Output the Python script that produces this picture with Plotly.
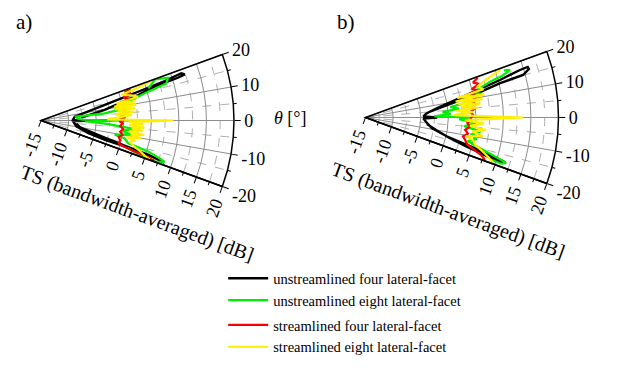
import plotly.graph_objects as go

# ---------------- data (theta in degrees, TS in dB) ----------------
# panel a)
th_a_black = [4.0, 9.4, 14.7, 16.6, 17.35, 17.8, 18.6, 17.7, 16.5, 13.7, 6.4, 3.0, 0.8, 0.0, -0.8, -4, -9.3, -14.9, -16.8, -17.1, -17.7, -18.7, -18.9, -18.2, -17.5, -16.3, -14.5, -10, -5]
r_a_black = [-7.7, -3.3, 3.2, 6.5, 11.0, 12.4, 11.85, 8.55, 3.35, -3.1, -8.85, -9.1, -9.2, -2.5, -9.2, -9.0, -8.5, -6.2, -2.9, 0.9, 5.4, 8.0, 8.6, 7.0, 3.5, -0.5, -4, -7.8, -8.6]
th_a_green = [16.7, 19.8, 18.6, 16.5, 15.1, 13.3, 11.5, 10.0, 9.0, 8.0, 7.0, 6.4, 6.1, 3.0, 1.0, 0.0, -1.0, -3.0, -5.4, -6.5, -7.5, -9.0, -10.9, -12.0, -14.5, -16.1, -18.0, -18.5, -19.6, -19.8, -19.0, -17.5]
r_a_green = [5.3, 7.0, 9.3, 8.7, 5.1, 2.5, 0.5, 1.5, -1.5, 1.0, -2.5, -3.4, -8.6, -8.4, -7.5, 1.0, -7.0, -3.0, 2.6, 0.5, 0.0, 1.5, -1.4, 0.5, 1.3, 5.2, 8.0, 8.6, 7.3, 5.5, 3.5, 1.5]
th_a_red = [19.5, 18.5, 17.0, 15.5, 14.0, 12.5, 11.0, 9.5, 8.0, 6.5, 5.0, 3.5, 2.0, 0.5, 0.0, -0.5, -2.0, -4.0, -6.0, -8.0, -10.0, -12.0, -14.0, -16.0, -17.0, -18.2, -18.8, -19.5]
r_a_red = [2.2, 1.0, 2.0, 0.5, 1.5, 0.0, 1.0, -0.5, 0.8, -0.3, 0.5, -0.5, 0.3, -0.8, 0.0, -0.8, -0.2, -0.6, 0.0, -0.5, 0.0, -0.6, -0.2, -0.3, -0.1, 2.3, 4.9, 6.8]
th_a_yellow = [19.9, 19.0, 17.6, 15.5, 13.8, 12.5, 11.5, 10.5, 9.5, 8.5, 7.5, 6.5, 5.5, 4.5, 3.5, 2.5, 1.0, 0.0, -1.0, -2.0, -3.0, -4.0, -5.0, -6.0, -7.0, -8.0, -9.0, -10.0, -11.0, -12.0, -13.5, -15.5, -17.5, -19.0, -19.8]
r_a_yellow = [6.3, 4.5, 0.3, 2.0, 3.1, -1.0, 2.5, -1.5, 2.5, -1.5, 2.2, -1.0, 2.0, -1.5, 1.5, -0.5, -3.0, 9.0, 1.0, 3.5, 1.0, 3.8, 1.5, 3.5, 1.0, 3.9, 1.5, 3.5, 0.8, 2.5, 1.5, 2.5, 4.0, 5.0, 6.0]

# panel b)
th_b_black = [5.1, 7.9, 11.3, 14.3, 15.1, 16.5, 17.3, 17.1, 15.6, 13.0, 7.4, 3.5, 1.0, 0.0, -1.0, -4.0, -9.0, -13.0, -15.4, -16.9, -17.8, -18.3, -17.6, -16.0, -13.5, -10.0, -6.0]
r_b_black = [-3.25, -0.8, 4.3, 10.2, 14.6, 15.9, 15.8, 14.3, 10.3, 4.5, -2.0, -4.0, -4.5, -2.0, -4.5, -4.0, -2.85, 0.1, 4.7, 9.2, 11.6, 11.0, 8.0, 4.0, 0.5, -2.0, -3.8]
th_b_green = [18.8, 18.2, 17.0, 16.0, 14.5, 13.0, 11.5, 10.0, 8.5, 7.0, 5.5, 4.0, 2.5, 1.0, 0.0, -1.0, -3.0, -5.0, -7.0, -9.0, -11.0, -13.0, -15.0, -16.5, -17.5, -18.0, -18.8, -18.5]
r_b_green = [11.5, 12.6, 11.0, 8.5, 6.5, 5.0, 6.5, 3.0, 4.0, 0.5, 2.0, -1.0, 0.5, -2.5, 4.0, 2.0, 5.0, 3.0, 6.0, 4.5, 5.5, 4.0, 6.5, 9.0, 11.0, 11.8, 11.0, 9.0]
th_b_red = [19.5, 18.0, 16.5, 15.0, 13.5, 12.0, 10.5, 9.0, 7.5, 6.0, 4.5, 3.0, 1.5, 0.0, -1.5, -3.0, -5.0, -7.0, -9.0, -11.0, -12.6, -14.5, -16.5, -18.0, -19.5]
r_b_red = [6.6, 5.5, 6.5, 5.0, 6.0, 4.5, 5.5, 4.0, 5.0, 4.0, 4.8, 4.0, 4.5, 4.2, 4.0, 3.5, 4.0, 3.2, 3.8, 3.0, 3.5, 4.0, 5.5, 7.0, 8.0]
th_b_yellow = [19.4, 17.5, 15.5, 13.5, 12.0, 11.0, 10.0, 9.0, 8.0, 7.0, 6.0, 5.0, 4.0, 3.0, 1.5, 0.0, -1.5, -3.0, -4.5, -6.0, -7.5, -9.0, -10.5, -12.0, -14.0, -16.0, -18.0, -19.6]
r_b_yellow = [10.9, 8.0, 6.0, 7.0, 2.0, 7.0, 1.6, 6.5, 2.0, 6.0, 2.5, 5.5, 1.5, 4.5, 1.0, 13.6, 3.0, 6.5, 4.0, 7.0, 4.5, 6.5, 3.5, 5.0, 5.5, 7.0, 8.5, 9.6]

names = ["unstreamlined four lateral-facet", "unstreamlined eight lateral-facet",
         "streamlined four lateral-facet", "streamlined eight lateral-facet"]
colors = ["#000000", "#00ee00", "#ff0000", "#ffee00"]
widths = [2.4, 2.2, 2.2, 2.2]
groups = ["g1", "g1", "g2", "g2"]

radial_ticks = [-15, -10, -5, 0, 5, 10, 15, 20]
radial_minor = [-12.5, -7.5, -2.5, 2.5, 7.5, 12.5, 17.5]
angular_ticks = [-20, -10, 0, 10, 20]
angular_minor = [-15, -5, 5, 15]
angular_text = ["-20", "-10", "0", "10", "20"]

SERIF = "Liberation Serif"

fig = go.Figure()

# empty traces so that the minor-grid layers are drawn
for sub in ["polar", "polar3"]:
    fig.add_trace(go.Scatterpolar(r=[None], theta=[None], mode="lines", subplot=sub,
                                  showlegend=False, hoverinfo="skip"))

panels = [
    ("polar2", [(th_a_black, r_a_black), (th_a_green, r_a_green), (th_a_red, r_a_red), (th_a_yellow, r_a_yellow)], True),
    ("polar4", [(th_b_black, r_b_black), (th_b_green, r_b_green), (th_b_red, r_b_red), (th_b_yellow, r_b_yellow)], False),
]
for sub, series, show in panels:
    for i, (th, rr) in enumerate(series):
        fig.add_trace(go.Scatterpolar(
            theta=th, r=rr, mode="lines", subplot=sub, name=names[i],
            legendgroup=groups[i], showlegend=show,
            line=dict(color=colors[i], width=widths[i]),
        ))

def minor_layer(domx, domy):
    return dict(
        domain=dict(x=domx, y=domy), sector=[-20, 20], bgcolor="white", hole=0,
        radialaxis=dict(range=[-15, 20], tickvals=radial_minor, showticklabels=False,
                        showgrid=True, gridcolor="#b0b0b0", griddash="dash", gridwidth=0.8,
                        showline=False, ticks="outside", ticklen=3, tickcolor="black",
                        angle=-20, side="clockwise"),
        angularaxis=dict(tickvals=angular_minor, showticklabels=False, showgrid=True,
                         gridcolor="#b0b0b0", griddash="dash", gridwidth=0.8, showline=False,
                         ticks="outside", ticklen=3, tickcolor="black",
                         direction="counterclockwise", rotation=0),
    )

def major_layer(domx, domy):
    return dict(
        domain=dict(x=domx, y=domy), sector=[-20, 20], bgcolor="rgba(0,0,0,0)", hole=0,
        radialaxis=dict(range=[-15, 20], tickvals=radial_ticks, ticktext=[str(v) for v in radial_ticks],
                        showgrid=True, gridcolor="#8c8c8c", gridwidth=1,
                        showline=True, linecolor="black", linewidth=1.5,
                        ticks="outside", ticklen=6, tickcolor="black",
                        angle=-20, side="clockwise", tickangle=-90,
                        tickfont=dict(family=SERIF, size=18, color="black")),
        angularaxis=dict(tickmode="array", tickvals=angular_ticks, ticktext=angular_text,
                         showgrid=True, gridcolor="#8c8c8c", gridwidth=1,
                         showline=True, linecolor="black", linewidth=1.5,
                         ticks="outside", ticklen=6, tickcolor="black",
                         direction="counterclockwise", rotation=0,
                         tickfont=dict(family=SERIF, size=18, color="black")),
    )

dom_a = ([0.0647, 0.3691], [0.4987, 0.8535])
dom_b = ([0.5765, 0.8809], [0.5067, 0.8616])

fig.update_layout(
    width=634, height=372, margin=dict(l=0, r=0, t=0, b=0),
    paper_bgcolor="white", plot_bgcolor="white",
    polar=minor_layer(*dom_a), polar2=major_layer(*dom_a),
    polar3=minor_layer(*dom_b), polar4=major_layer(*dom_b),
    showlegend=True,
    legend=dict(x=0.352, y=0.295, xanchor="left", yanchor="top",
                traceorder="grouped", tracegroupgap=3,
                font=dict(family=SERIF, size=14.5, color="black"),
                bgcolor="rgba(0,0,0,0)", itemwidth=40),
)

ann = [
    dict(text="a)", x=24 / 634, y=1 - 22 / 372, font=dict(size=21)),
    dict(text="b)", x=346 / 634, y=1 - 22 / 372, font=dict(size=21)),
    dict(text="<i>θ</i> [°]", x=290 / 634, y=1 - 118 / 372, font=dict(size=18)),
    dict(text="TS (bandwidth-averaged) [dB]", x=137 / 634, y=1 - 213 / 372, textangle=20, font=dict(size=20)),
    dict(text="TS (bandwidth-averaged) [dB]", x=448 / 634, y=1 - 210 / 372, textangle=20, font=dict(size=20)),
]
for a in ann:
    a["font"].update(family=SERIF, color="black")
    fig.add_annotation(xref="paper", yref="paper", showarrow=False, xanchor="center", yanchor="middle", **a)

fig.write_html("out.html")
